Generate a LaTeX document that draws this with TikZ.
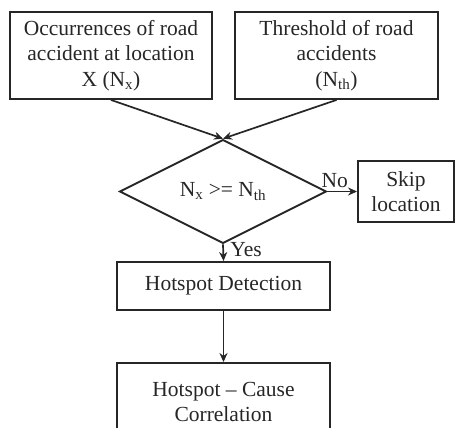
\documentclass[tikz,border=0pt]{standalone}
\usepackage{fontspec}
\setmainfont{Liberation Serif}
\usetikzlibrary{shapes.geometric,arrows.meta}
\begin{document}
\begin{tikzpicture}[x=1pt, y=-1pt,
  font=\fontsize{21.5}{25.5}\selectfont,
  every node/.style={text=black!85},
  box/.style={draw=black!85, line width=1.9pt, align=center, inner sep=0pt},
  link/.style={draw=black!85, line width=1.7pt, -{Stealth[length=9pt, width=8pt]}}]
\useasboundingbox (0,0) rectangle (455,428);
\node[box, minimum width=202pt, minimum height=87pt] (occur) at (111,55.5) {Occurrences of road\\accident at location\\X (N\textsubscript{x})};
\node[box, minimum width=203pt, minimum height=87pt] (thresh) at (336.5,55.5) {Threshold of road\\accidents\\(N\textsubscript{th})};
\node[box, diamond, minimum width=207pt, minimum height=77pt] (test) at (223,191.5) {N\textsubscript{x} >= N\textsubscript{th}};
\node[box, minimum width=96pt, minimum height=61pt] (skip) at (406,191.5) {Skip\\location};
\node[box, minimum width=213pt, minimum height=48pt] (detect) at (223.5,286) {Hotspot Detection};
\node[box, minimum width=213pt, minimum height=78pt] (correl) at (223.5,402) {Hotspot -- Cause\\Correlation};
\draw[link] (occur.south) -- (test.north);
\draw[link] (thresh.south) -- (test.north);
\draw[link] (test.east) -- node[above, pos=0.25] {No} (skip.west);
\draw[link] (test.south) -- node[right, xshift=3pt, yshift=3pt] {Yes} (detect.north);
\draw[link] (detect.south) -- (correl.north);
\end{tikzpicture}
\end{document}
